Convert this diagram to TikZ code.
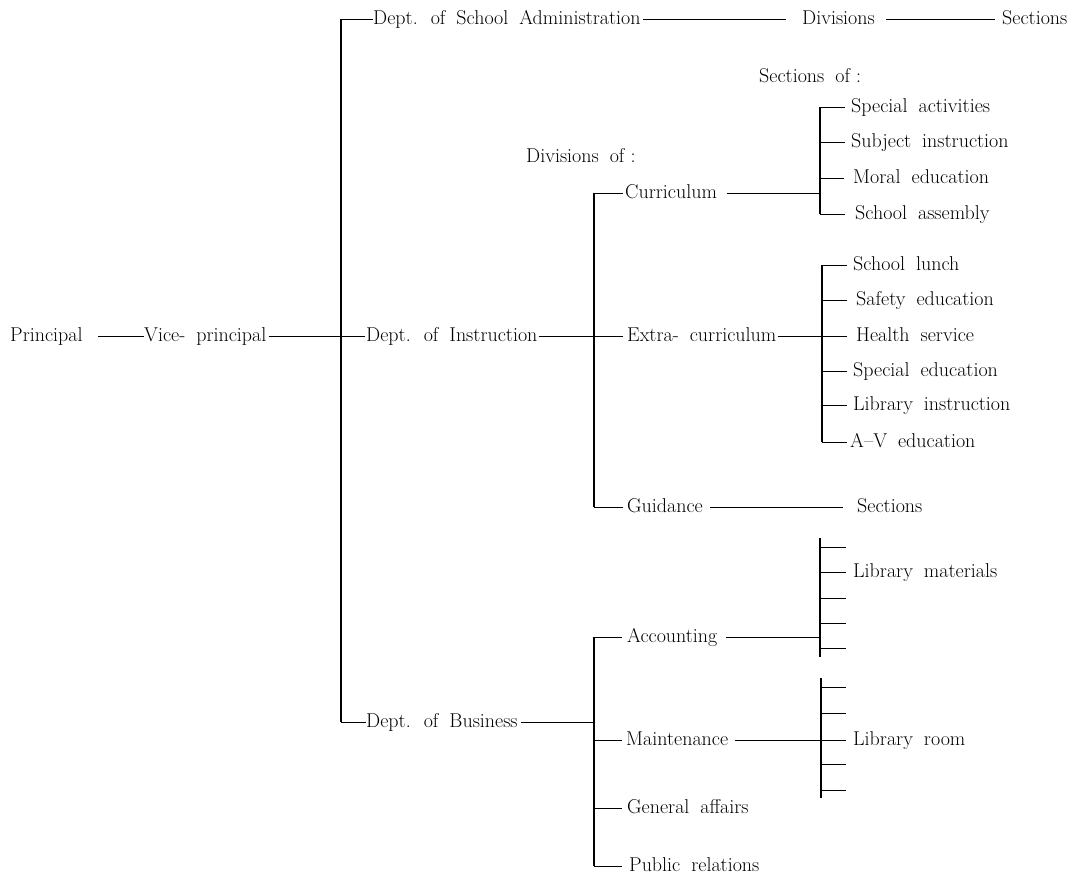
\documentclass[tikz,border=0pt]{standalone}
\newcommand\chartfont{\fontsize{20}{23}\selectfont}
\newcommand\chartspace{\spaceskip=0.55em plus 0.1em\relax}
\begin{document}
\begin{tikzpicture}[x=1pt,y=-1pt,
  lbl/.style={anchor=west, inner sep=0pt, text height=14pt, text depth=4pt,
    font=\chartfont, execute at begin node=\chartspace},
  link/.style={line width=0.9pt},
  bar/.style={line width=1.2pt}]
\useasboundingbox[fill=white] (0,0) rectangle (1081,884);

% ---- text nodes ----
\node[lbl] (prin)   at (10,336)  {Principal};
\node[lbl] (vp)     at (144,336) {Vice- principal};
\node[lbl] (dsa)    at (373,19)  {Dept. of School Administration};
\node[lbl] (dinst)  at (366,336) {Dept. of Instruction};
\node[lbl] (dbus)   at (366,722) {Dept. of Business};
\node[lbl] (divs)   at (802,19)  {Divisions};
\node[lbl] (secs)   at (1002,19) {Sections};
\node[lbl] (divof)  at (526,157) {Divisions of\hspace{0.3em}:};
\node[lbl] (secof)  at (759,77)  {Sections of\hspace{0.3em}:};
\node[lbl] (cur)    at (625,193) {Curriculum};
\node[lbl] (extra)  at (627,336) {Extra- curriculum};
\node[lbl] (guid)   at (627,507) {Guidance};
\node[lbl] (gsecs)  at (857,507) {Sections};
% sections of curriculum
\node[lbl] (sact)   at (851,107) {Special activities};
\node[lbl] (subj)   at (851,142) {Subject instruction};
\node[lbl] (moral)  at (853,178) {Moral education};
\node[lbl] (assem)  at (855,214) {School assembly};
% sections of extra-curriculum
\node[lbl] (lunch)  at (853,265) {School lunch};
\node[lbl] (safety) at (856,300) {Safety education};
\node[lbl] (health) at (856,336) {Health service};
\node[lbl] (speced) at (853,371) {Special education};
\node[lbl] (libins) at (853,405) {Library instruction};
\node[lbl] (avedu)  at (850,442) {A--V education};
% business
\node[lbl] (acc)    at (627,637) {Accounting};
\node[lbl] (maint)  at (626,740) {Maintenance};
\node[lbl] (genaff) at (627,808) {General affairs};
\node[lbl] (pubrel) at (629,866) {Public relations};
\node[lbl] (libmat) at (853,572) {Library materials};
\node[lbl] (libroom) at (853,740) {Library room};

% ---- bracket bars ----
\coordinate (b1t) at (341,19);  \coordinate (b1b) at (341,722);
\coordinate (b2t) at (594,193); \coordinate (b2b) at (594,507);
\coordinate (b3t) at (820,107); \coordinate (b3b) at (820,214);
\coordinate (b4t) at (822,265); \coordinate (b4b) at (822,442);
\coordinate (b5t) at (594,637); \coordinate (b5b) at (594,866);
\coordinate (b6t) at (820,538); \coordinate (b6b) at (820,657);
\coordinate (b7t) at (821,678); \coordinate (b7b) at (821,798);
\foreach \b in {b1,b2,b3,b4,b5,b6,b7}
  \draw[bar] (\b t) -- (\b b);

% ---- main line ----
\draw[link,shorten <=15pt] (prin.east) -- (vp.west);
\draw[link,shorten <=2pt,shorten >=1pt] (vp.east) -- (dinst.west);
\draw[link] (b1t) -- (dsa.west);
\draw[link] (b1b) -- (dbus.west);

% ---- school administration ----
\draw[link,shorten <=2pt,shorten >=16pt] (dsa.east) -- (divs.west);
\draw[link,shorten <=11pt,shorten >=7pt] (divs.east) -- (secs.west);

% ---- instruction ----
\draw[link,shorten <=1pt,shorten >=4pt] (dinst.east) -- (extra.west);
\draw[link,shorten >=2pt] (b2t) -- (cur.west);
\draw[link,shorten >=4pt] (b2b) -- (guid.west);
\draw[link,shorten <=10pt] (cur.east) -- (cur.east -| b3t);
\draw[link,shorten >=6pt] (b3t) -- (sact.west);
\draw[link,shorten >=6pt] (subj.west -| b3t) -- (subj.west);
\draw[link,shorten >=9pt] (moral.west -| b3t) -- (moral.west);
\draw[link,shorten >=10pt] (b3b) -- (assem.west);
\draw[link,shorten <=1pt,shorten >=9pt] (extra.east) -- (health.west);
\draw[link,shorten >=6pt] (b4t) -- (lunch.west);
\draw[link,shorten >=9pt] (safety.west -| b4t) -- (safety.west);
\draw[link,shorten >=6pt] (speced.west -| b4t) -- (speced.west);
\draw[link,shorten >=6pt] (libins.west -| b4t) -- (libins.west);
\draw[link,shorten >=3pt] (b4b) -- (avedu.west);
\draw[link,shorten <=7pt,shorten >=14pt] (guid.east) -- (gsecs.west);

% ---- business ----
\draw[link,shorten <=3pt] (dbus.east) -- (dbus.east -| b5t);
\draw[link,shorten >=5pt] (b5t) -- (acc.west);
\draw[link,shorten >=4pt] (maint.west -| b5t) -- (maint.west);
\draw[link,shorten >=5pt] (genaff.west -| b5t) -- (genaff.west);
\draw[link,shorten >=7pt] (b5b) -- (pubrel.west);
\draw[link,shorten <=8pt] (acc.east) -- (acc.east -| b6t);
\draw[link,shorten >=7pt] (libmat.west -| b6t) -- (libmat.west);
\foreach \y in {547,598,623,648}
  \draw[link] (b6t |- 0,\y) -- (846,\y);
\draw[link,shorten <=7pt,shorten >=7pt] (maint.east) -- (libroom.west);
\foreach \y in {687,713,764,790}
  \draw[link] (b7t |- 0,\y) -- (846,\y);
\end{tikzpicture}
\end{document}
